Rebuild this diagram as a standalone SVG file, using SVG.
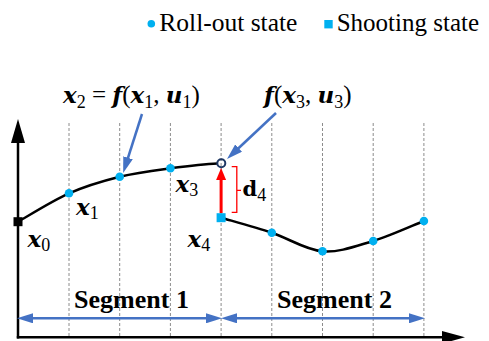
<svg xmlns="http://www.w3.org/2000/svg" width="489" height="341" viewBox="0 0 489 341">
<defs>
  <marker id="blueHead" viewBox="0 0 16 10" markerWidth="16" markerHeight="10" refX="5" refY="5" orient="auto-start-reverse" markerUnits="userSpaceOnUse">
    <path d="M0,0 L16,5 L0,10 z" fill="#4472C4"/>
  </marker>
  <marker id="redHead" viewBox="0 0 12 10" markerWidth="12" markerHeight="10" refX="4" refY="5" orient="auto" markerUnits="userSpaceOnUse">
    <path d="M0,0 L12,5 L0,10 z" fill="#FF0000"/>
  </marker>
</defs>

<g id="grid" stroke="#8c8c8c" stroke-width="1" stroke-dasharray="3 2" fill="none">
  <line x1="69" y1="123" x2="69" y2="337"/>
  <line x1="119.7" y1="123" x2="119.7" y2="337"/>
  <line x1="170.4" y1="123" x2="170.4" y2="337"/>
  <line x1="221.1" y1="123" x2="221.1" y2="337"/>
  <line x1="271.8" y1="123" x2="271.8" y2="337"/>
  <line x1="322.5" y1="123" x2="322.5" y2="337"/>
  <line x1="373.2" y1="123" x2="373.2" y2="337"/>
  <line x1="423.9" y1="123" x2="423.9" y2="337"/>
</g>

<g id="axes">
  <line x1="18" y1="338.5" x2="18" y2="139" stroke="#000" stroke-width="2.5"/>
  <line x1="16.8" y1="337.3" x2="445" y2="337.3" stroke="#000" stroke-width="2.5"/>
  <path d="M18,119 L25,143 L11,143 z" fill="#000"/>
  <path d="M465,337.3 L442,331 L442,343.6 z" fill="#000"/>
</g>

<g id="connectors" fill="none">
  <g stroke="#000" stroke-width="2.5">
    <path d="M18,221.7 C26.5,217 52,200.8 69,193.3 C86,185.8 103,180.9 119.7,176.7 C137,172.5 153.8,170.5 170.4,168.3 C187.6,166.1 205,164.1 217.5,163.5"/>
    <path d="M221.1,217.7 C229.5,220.2 254.8,227.1 271.8,232.7 C288.6,238.3 305.4,249.9 322.5,251.3 C339.2,252.7 356.1,246 373.2,241 C389.9,236 415.3,224.3 423.9,221"/>
  </g>
  <g stroke="#4472C4" stroke-width="2.5">
    <line x1="142" y1="114" x2="126.5" y2="162.5" marker-end="url(#blueHead)"/>
    <line x1="276" y1="113" x2="235" y2="151.5" marker-end="url(#blueHead)"/>
    <line x1="28" y1="318.3" x2="211" y2="318.3" marker-start="url(#blueHead)" marker-end="url(#blueHead)"/>
    <line x1="232" y1="318.3" x2="414" y2="318.3" marker-start="url(#blueHead)" marker-end="url(#blueHead)"/>
  </g>
  <line x1="221.1" y1="213" x2="221.1" y2="176" stroke="#FF0000" stroke-width="3" marker-end="url(#redHead)"/>
  <path d="M231.7,166.7 H236.8 V212.3 H231.7 M236.8,190.3 H241" stroke="#FF0000" stroke-width="1.3"/>
</g>

<g id="x0"><rect x="13.5" y="217.2" width="9" height="9" fill="#000"/>
  <text style="font-family:'Liberation Serif',serif;font-size:18px" x="27.5" y="246.5"><tspan style="font-family:'DejaVu Serif',serif;font-weight:bold;font-style:italic;font-size:23px">x</tspan><tspan dy="4">0</tspan></text></g>
<g id="x1"><circle fill="#00B0F0" cx="69" cy="193.3" r="4.3"/>
  <text style="font-family:'Liberation Serif',serif;font-size:18px" x="76" y="214.5"><tspan style="font-family:'DejaVu Serif',serif;font-weight:bold;font-style:italic;font-size:23px">x</tspan><tspan dy="4">1</tspan></text></g>
<g id="x2"><circle fill="#00B0F0" cx="119.7" cy="176.7" r="4.3"/></g>
<g id="x3"><circle fill="#00B0F0" cx="170.4" cy="168.3" r="4.3"/>
  <text style="font-family:'Liberation Serif',serif;font-size:18px" x="175.5" y="191.5"><tspan style="font-family:'DejaVu Serif',serif;font-weight:bold;font-style:italic;font-size:23px">x</tspan><tspan dy="4">3</tspan></text></g>
<g id="fx3"><circle cx="221.3" cy="163.3" r="4" fill="none" stroke="#1F3864" stroke-width="2"/></g>
<g id="x4"><rect x="216.6" y="213.2" width="9" height="9" fill="#00B0F0"/>
  <text style="font-family:'Liberation Serif',serif;font-size:18px" x="187.5" y="246.5"><tspan style="font-family:'DejaVu Serif',serif;font-weight:bold;font-style:italic;font-size:23px">x</tspan><tspan dy="4">4</tspan></text></g>
<g id="s5"><circle fill="#00B0F0" cx="271.8" cy="232.7" r="4.3"/></g>
<g id="s6"><circle fill="#00B0F0" cx="322.5" cy="251.3" r="4.3"/></g>
<g id="s7"><circle fill="#00B0F0" cx="373.2" cy="241" r="4.3"/></g>
<g id="s8"><circle fill="#00B0F0" cx="423.9" cy="221" r="4.3"/></g>

<g id="d4label"><text style="font-family:'Liberation Serif',serif;font-size:18px" x="242.5" y="196"><tspan style="font-family:'DejaVu Serif',serif;font-weight:bold;font-size:21px">d</tspan><tspan dy="5">4</tspan></text></g>

<g id="label-x2"><text style="font-family:'Liberation Serif',serif;font-size:25px" x="63" y="103"><tspan style="font-family:'DejaVu Serif',serif;font-weight:bold;font-style:italic;font-size:23px">x</tspan><tspan dy="5" style="font-size:18px">2</tspan><tspan dy="-5"> = </tspan><tspan style="font-family:'DejaVu Serif',serif;font-weight:bold;font-style:italic;font-size:23px">f</tspan><tspan>(</tspan><tspan style="font-family:'DejaVu Serif',serif;font-weight:bold;font-style:italic;font-size:23px">x</tspan><tspan dy="5" style="font-size:18px">1</tspan><tspan dy="-5">, </tspan><tspan style="font-family:'DejaVu Serif',serif;font-weight:bold;font-style:italic;font-size:23px">u</tspan><tspan dy="5" style="font-size:18px">1</tspan><tspan dy="-5">)</tspan></text></g>
<g id="label-fx3"><text style="font-family:'Liberation Serif',serif;font-size:25px" x="264" y="103"><tspan style="font-family:'DejaVu Serif',serif;font-weight:bold;font-style:italic;font-size:23px">f</tspan><tspan>(</tspan><tspan style="font-family:'DejaVu Serif',serif;font-weight:bold;font-style:italic;font-size:23px">x</tspan><tspan dy="5" style="font-size:18px">3</tspan><tspan dy="-5">, </tspan><tspan style="font-family:'DejaVu Serif',serif;font-weight:bold;font-style:italic;font-size:23px">u</tspan><tspan dy="5" style="font-size:18px">3</tspan><tspan dy="-5">)</tspan></text></g>

<g id="seg1"><text style="font-family:'Liberation Serif',serif;font-size:26px;font-weight:bold" x="131.5" y="308" text-anchor="middle">Segment 1</text></g>
<g id="seg2"><text style="font-family:'Liberation Serif',serif;font-size:26px;font-weight:bold" x="334.5" y="308" text-anchor="middle">Segment 2</text></g>

<g id="legend">
  <circle fill="#00B0F0" cx="151.3" cy="23.8" r="3.8"/>
  <text style="font-family:'Liberation Serif',serif;font-size:25.5px" x="159.3" y="31">Roll-out state</text>
  <rect x="324.3" y="20" width="8.4" height="8.4" fill="#00B0F0"/>
  <text style="font-family:'Liberation Serif',serif;font-size:25px" x="336.7" y="31">Shooting state</text>
</g>
</svg>
